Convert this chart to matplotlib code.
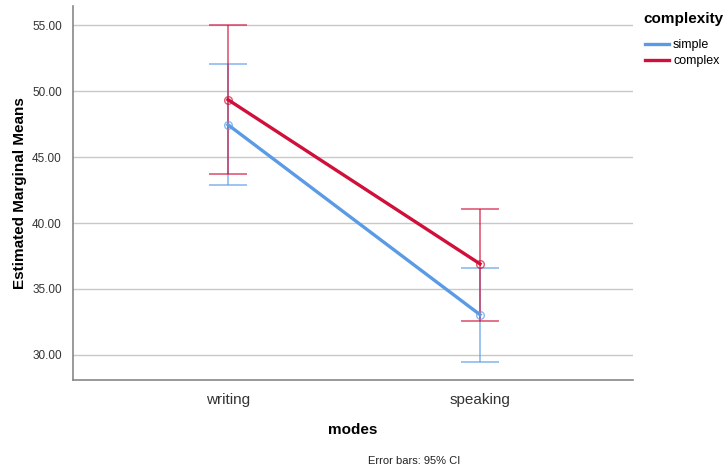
import matplotlib.pyplot as plt

plt.rcParams['font.family'] = ['Liberation Sans', 'DejaVu Sans']

MODES = ['writing', 'speaking']
GROUPS = ['simple', 'complex']
COLORS = ['#5b9be6', '#d0103a']

MEANS = {
    'simple': [47.45, 33.05],
    'complex': [49.35, 36.9],
}
CI_LOW = {
    'simple': [42.9, 29.5],
    'complex': [43.7, 32.6],
}
CI_HIGH = {
    'simple': [52.05, 36.6],
    'complex': [55.0, 41.1],
}
YTICKS = [30, 35, 40, 45, 50, 55]

fig = plt.figure(figsize=(7.26, 4.69), dpi=100)
ax = fig.add_axes([73 / 726, 1 - 380 / 469, 560 / 726, 374 / 469])

x = list(range(len(MODES)))
for g, color in zip(GROUPS, COLORS):
    m = MEANS[g]
    lo = [a - b for a, b in zip(m, CI_LOW[g])]
    hi = [b - a for a, b in zip(m, CI_HIGH[g])]
    ax.errorbar(x, m, yerr=[lo, hi], fmt='none', ecolor=color, elinewidth=1.1,
                capsize=14, capthick=1.1, alpha=0.75, zorder=3)
    ax.plot(x, m, color=color, linewidth=2.4, label=g, zorder=4)
    ax.plot(x, m, linestyle='None', marker='o', markersize=5.5, markerfacecolor='none',
            markeredgecolor=color, markeredgewidth=1, alpha=0.7, zorder=5)

ax.set_xlim(-0.615, 1.607)
ax.set_ylim(28.1, 56.45)
ax.set_xticks(x)
ax.set_xticklabels(MODES, fontsize=11, color='#333333')
ax.set_yticks(YTICKS)
ax.set_yticklabels(['%.2f' % v for v in YTICKS], fontsize=8.5, color='#333333')
ax.tick_params(length=0, pad=8)
ax.tick_params(axis='x', pad=9)
ax.grid(axis='y', color='#c8c8c8', linewidth=1)
ax.set_axisbelow(True)
for s in ['top', 'right']:
    ax.spines[s].set_visible(False)
for s in ['left', 'bottom']:
    ax.spines[s].set_color('#888888')
    ax.spines[s].set_linewidth(1.2)

ax.set_ylabel('Estimated Marginal Means', fontsize=11, fontweight='bold', labelpad=4)
ax.set_xlabel('modes', fontsize=11, fontweight='bold', labelpad=12)

fig.text(643 / 726, 1 - 19 / 469, 'complexity', fontsize=11, fontweight='bold', va='center')
leg = ax.legend(loc='upper left', bbox_to_anchor=(645 / 726, 1 - 39 / 469),
                bbox_transform=fig.transFigure, frameon=False, fontsize=9,
                handlelength=1.9, handletextpad=0.35, labelspacing=0.35,
                borderpad=0.0, borderaxespad=0.0)

fig.text(368 / 726, 1 - 461 / 469, 'Error bars: 95% CI', fontsize=8, va='center', color='#222222')

fig.savefig('out.png', dpi=100)
